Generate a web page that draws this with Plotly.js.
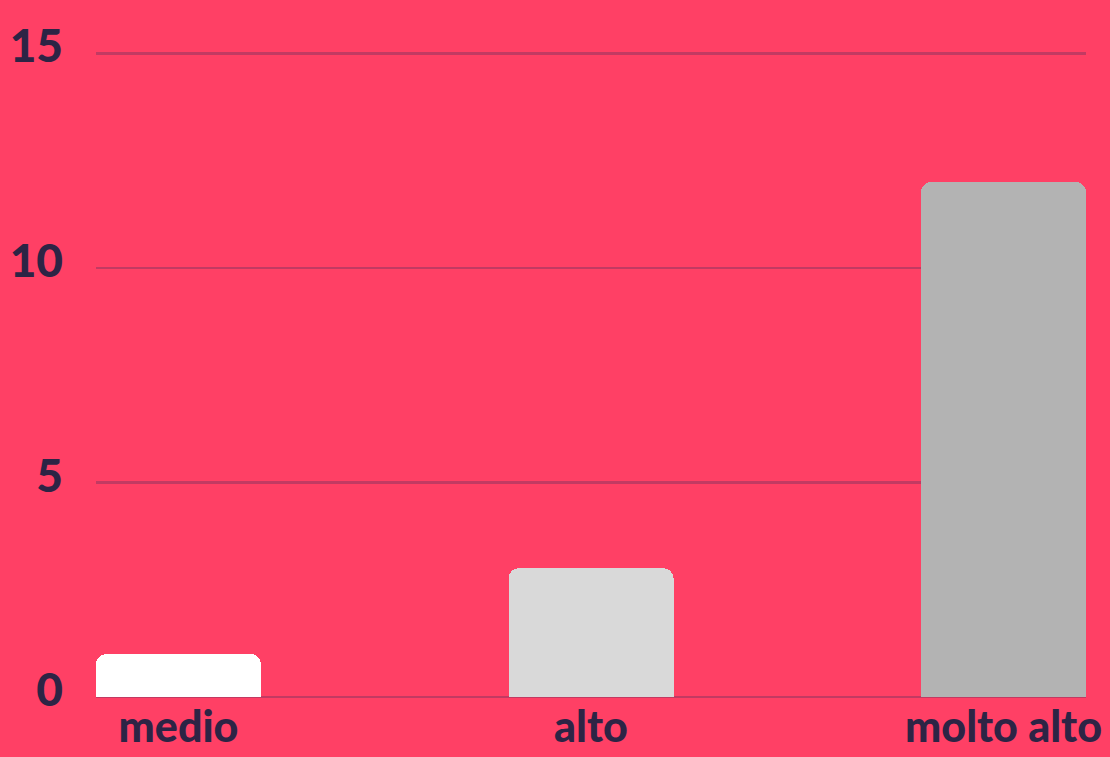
<!DOCTYPE html>
<html>
<head>
<meta charset="utf-8">
<script src="https://cdn.plot.ly/plotly-3.0.1.min.js"></script>
<style>
  html, body { margin: 0; padding: 0; background: #FF4065; }
  #chart { width: 1110px; height: 757px; }
</style>
</head>
<body>
<div id="chart"></div>
<script>
const categories = ["medio", "alto", "molto alto"];
const values = [1, 3, 12];
const barColors = ["#ffffff", "#d9d9d9", "#b3b3b3"];
const yTickVals = [0, 5, 10, 15];
const yTickText = ["0", "5", "10", "15"];

const textColor = "#2d2445";
const gridColor = "#c23a62";

const trace = {
  type: "bar",
  x: categories,
  y: values,
  width: 0.4,
  marker: { color: barColors, cornerradius: 10, line: { width: 0 } },
  hoverinfo: "none"
};

const layout = {
  width: 1110,
  height: 757,
  paper_bgcolor: "#FF4065",
  plot_bgcolor: "#FF4065",
  margin: { l: 96, r: 24, t: 52, b: 60 },
  showlegend: false,
  font: { family: "Lato, 'Open Sans', sans-serif", color: textColor, size: 44, weight: 900 },
  xaxis: {
    type: "category",
    range: [-0.2, 2.2],
    showgrid: false,
    zeroline: false,
    showline: false,
    ticks: "",
    tickfont: { size: 43, color: textColor, weight: 900 },
    ticklabelstandoff: 1,
    fixedrange: true
  },
  yaxis: {
    range: [0, 15.03],
    tickvals: yTickVals,
    ticktext: yTickText,
    showgrid: true,
    gridcolor: gridColor,
    gridwidth: 2.5,
    zeroline: true,
    zerolinecolor: gridColor,
    zerolinewidth: 2.5,
    showline: false,
    ticks: "",
    tickfont: { size: 46, color: textColor, weight: 900 },
    ticklabelstandoff: 32,
    ticklabelshift: -7,
    fixedrange: true
  },
  bargap: 0
};

Plotly.newPlot("chart", [trace], layout, { displayModeBar: false, staticPlot: true });
</script>
</body>
</html>
